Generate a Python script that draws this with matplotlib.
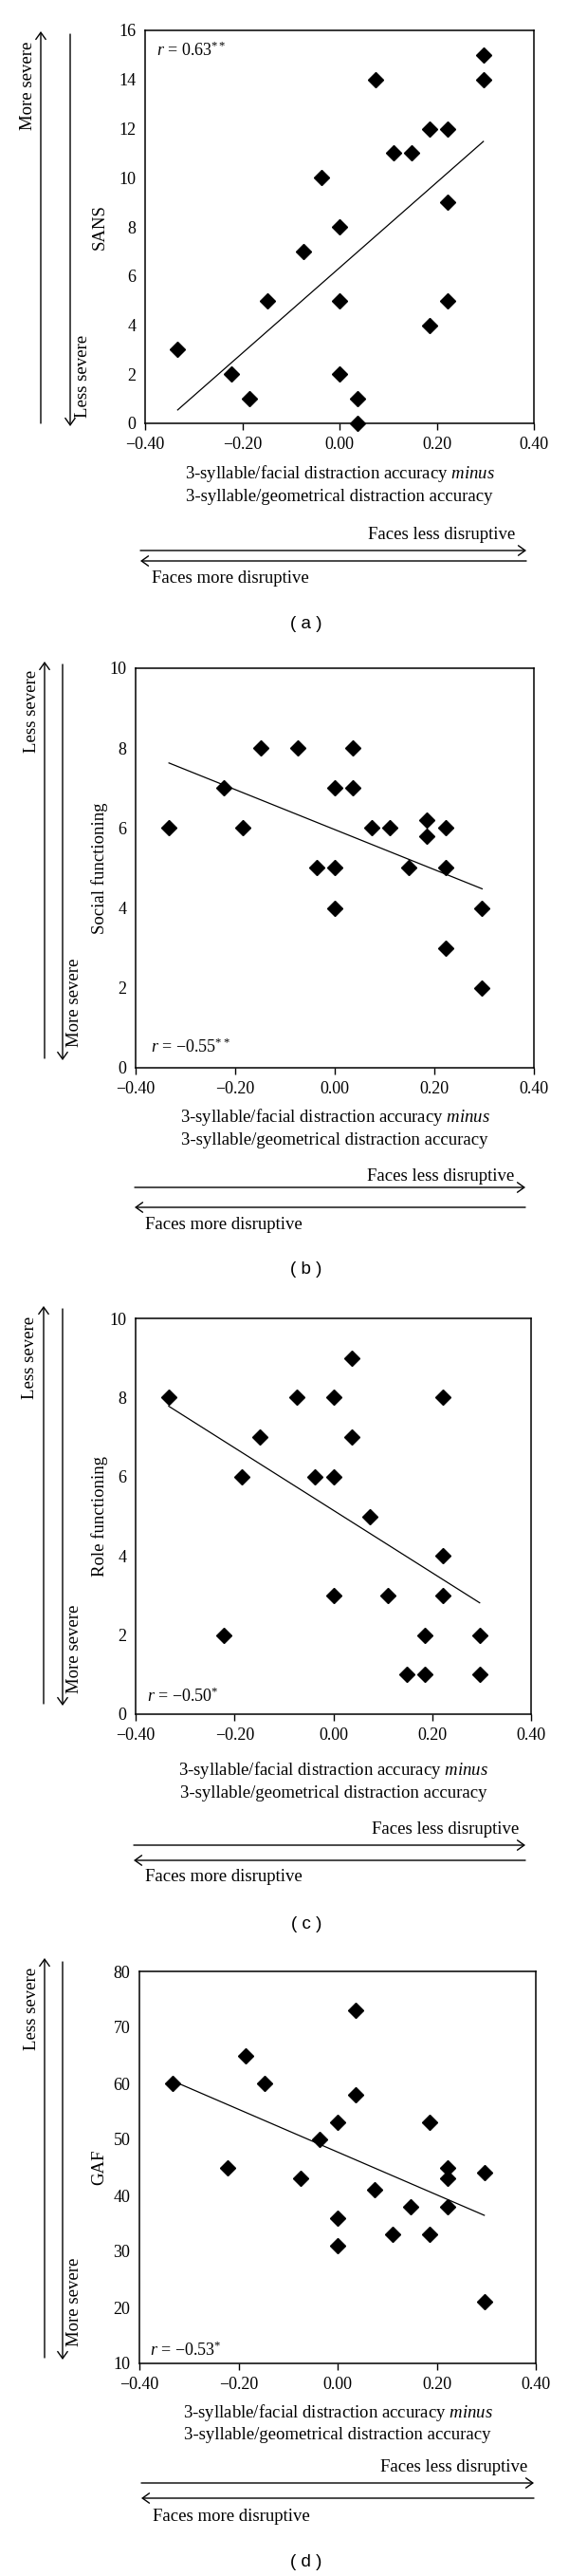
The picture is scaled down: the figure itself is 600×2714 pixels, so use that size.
import numpy as np
import matplotlib
matplotlib.use("Agg")
import matplotlib.pyplot as plt
from matplotlib.patches import FancyArrowPatch

plt.rcParams['font.family'] = ['Liberation Serif', 'DejaVu Serif']
plt.rcParams['mathtext.fontset'] = 'custom'
plt.rcParams['mathtext.rm'] = 'Liberation Serif'
plt.rcParams['mathtext.it'] = 'Liberation Serif:italic'
plt.rcParams['axes.unicode_minus'] = True

# ---------------- data ----------------
x_diff = [-0.333, -0.222, -0.185, -0.148, -0.074, -0.037, 0.0, 0.0, 0.0, 0.037, 0.037,
          0.074, 0.111, 0.148, 0.185, 0.222, 0.222, 0.222, 0.185, 0.296, 0.296]
sans = [3, 2, 1, 5, 7, 10, 8, 5, 2, 1, 0, 14, 11, 11, 12, 12, 9, 5, 4, 15, 14]

x_diff_b = [-0.333, -0.222, -0.185, -0.148, -0.074, -0.037, 0.0, 0.0, 0.0, 0.037, 0.037,
            0.074, 0.111, 0.148, 0.185, 0.185, 0.222, 0.222, 0.222, 0.296, 0.296]
social = [6, 7, 6, 8, 8, 5, 7, 5, 4, 8, 7, 6, 6, 5, 6.2, 5.8, 6, 5, 3, 4, 2]
role = [8, 2, 6, 7, 8, 6, 8, 6, 3, 9, 7, 5, 3, 1, 2, 1, 8, 4, 3, 2, 1]
gaf = [60, 45, 65, 60, 43, 50, 53, 36, 31, 73, 58, 41, 33, 38, 53, 33, 45, 43, 38, 44, 21]

x_ticks = [-0.40, -0.20, 0.00, 0.20, 0.40]
x_tick_labels = ['\u22120.40', '\u22120.20', '0.00', '0.20', '0.40']

ylabels = ['SANS', 'Social functioning', 'Role functioning', 'GAF']
r_labels = ['$r$ = 0.63$^{**}$', '$r$ = \u22120.55$^{**}$',
            '$r$ = \u22120.50$^{*}$', '$r$ = \u22120.53$^{*}$']
captions = ['( a )', '( b )', '( c )', '( d )']
xlabel1 = '3-syllable/facial distraction accuracy $\\it{minus}$'
xlabel2 = '3-syllable/geometrical distraction accuracy'

# ---------------- layout helpers (pixels, y from top) ----------------
W, H = 600, 2714
fig = plt.figure(figsize=(W / 100, H / 100), dpi=100)


def box(l, r, t, b):
    return [l / W, 1 - b / H, (r - l) / W, (b - t) / H]


def ftext(x, y, s, **kw):
    kw.setdefault('fontsize', 13.5)
    fig.text(x / W, 1 - y / H, s, **kw)


def farrow(x0, y0, x1, y1):
    fig.add_artist(FancyArrowPatch((x0 / W, 1 - y0 / H), (x1 / W, 1 - y1 / H),
                                   transform=fig.transFigure,
                                   arrowstyle='->,head_length=0.35,head_width=0.25',
                                   mutation_scale=15, lw=1.0, color='black',
                                   shrinkA=0, shrinkB=0))


panels = [
    dict(ax=(153, 563, 32, 446), ys=sans, xs=x_diff, ylim=(0, 16), ystep=2,
         r_pos=(165, 53), xl=(499, 523), fl=(563, 543), arr=(580, 591, 148, 555),
         fm=(610, 160), cap=657,
         top_text='More severe', bot_text='Less severe',
         l1=(43, 446, 33), l2=(74, 36, 449), t1=90, t2=396),
    dict(ax=(143, 563, 704, 1125), ys=social, xs=x_diff_b, ylim=(0, 10), ystep=2,
         r_pos=(159, 1103), xl=(1177, 1201), fl=(1239, 542), arr=(1251, 1272, 142, 554),
         fm=(1291, 153), cap=1338,
         top_text='Less severe', bot_text='More severe',
         l1=(47, 1115, 697), l2=(66, 700, 1117), t1=749, t2=1056),
    dict(ax=(143, 560, 1389, 1806), ys=role, xs=x_diff_b, ylim=(0, 10), ystep=2,
         r_pos=(155, 1787), xl=(1865, 1889), fl=(1928, 547), arr=(1944, 1960, 141, 554),
         fm=(1978, 153), cap=2027,
         top_text='Less severe', bot_text='More severe',
         l1=(46, 1795, 1376), l2=(66, 1379, 1797), t1=1430, t2=1737),
    dict(ax=(147, 565, 2077, 2490), ys=gaf, xs=x_diff_b, ylim=(10, 80), ystep=10,
         r_pos=(158, 2476), xl=(2542, 2566), fl=(2600, 556), arr=(2616, 2632, 149, 563),
         fm=(2651, 161), cap=2699,
         top_text='Less severe', bot_text='More severe',
         l1=(47, 2484, 2063), l2=(66, 2067, 2486), t1=2116, t2=2425),
]

for i, p in enumerate(panels):
    l, r, t, b = p['ax']
    ax = fig.add_axes(box(l, r, t, b))
    xs = np.array(p['xs'])
    ys = np.array(p['ys'], dtype=float)
    ax.plot(xs, ys, linestyle='none', marker='D', markersize=7.8, color='black',
            clip_on=False, zorder=3)
    k, c = np.polyfit(xs, ys, 1)
    xl_ = np.array([xs.min(), xs.max()])
    ax.plot(xl_, k * xl_ + c, color='black', lw=0.9, zorder=2)
    ax.set_xlim(-0.4, 0.4)
    ax.set_ylim(*p['ylim'])
    ax.set_xticks(x_ticks)
    ax.set_xticklabels(x_tick_labels)
    ax.set_yticks(np.arange(p['ylim'][0], p['ylim'][1] + 0.1, p['ystep']))
    ax.set_yticklabels([f'{int(v)}' for v in ax.get_yticks()])
    ax.tick_params(axis='x', direction='out', length=5, width=1.0, pad=5, labelsize=13)
    ax.tick_params(axis='y', length=0, pad=7, labelsize=13)
    for s in ax.spines.values():
        s.set_linewidth(1.1)

    # y label
    ftext(105, (t + b) / 2, ylabels[i], rotation=90, ha='center', va='center')
    # r annotation
    ftext(p['r_pos'][0], p['r_pos'][1], r_labels[i], ha='left', va='center', fontsize=13)
    # x labels
    cx = (l + r) / 2
    ftext(cx, p['xl'][0], xlabel1, ha='center', va='center')
    ftext(cx, p['xl'][1], xlabel2, ha='center', va='center')
    # faces arrows
    ftext(p['fl'][1], p['fl'][0], 'Faces less disruptive', ha='right', va='center')
    ya, yb, xa, xb = p['arr']
    farrow(xa, ya, xb, ya)
    farrow(xb, yb, xa, yb)
    ftext(p['fm'][1], p['fm'][0], 'Faces more disruptive', ha='left', va='center')
    # caption
    ftext(323, p['cap'], captions[i], ha='center', va='center',
          family=['Liberation Sans', 'DejaVu Sans'], fontsize=13.5)
    # severity arrows
    x1, y1a, y1b = p['l1']
    farrow(x1, y1a, x1, y1b)
    x2, y2a, y2b = p['l2']
    farrow(x2, y2a, x2, y2b)
    ftext(x1 - 14, p['t1'], p['top_text'], rotation=90, ha='center', va='center')
    ftext(x2 + 13, p['t2'], p['bot_text'], rotation=90, ha='center', va='center')

fig.savefig('out.png', dpi=100, facecolor='white')
